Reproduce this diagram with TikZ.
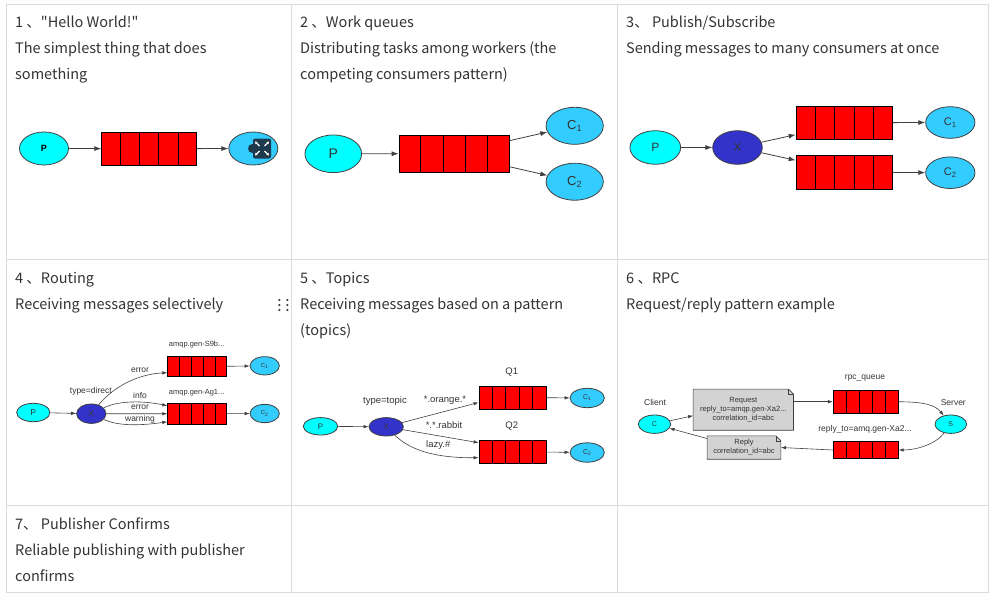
\documentclass[tikz,border=0pt]{standalone}
\usepackage{fontspec}
\setmainfont{Liberation Sans}
\newfontfamily\cjk{Noto Sans CJK SC}
\usetikzlibrary{shapes.geometric,arrows.meta,calc,backgrounds}
\definecolor{gridgray}{HTML}{DCDCDC}
\definecolor{textgray}{HTML}{333333}
\definecolor{edgegray}{HTML}{404040}
\definecolor{pcyan}{HTML}{00FFFF}
\definecolor{cblue}{HTML}{33CCFF}
\definecolor{xblue}{HTML}{3333CC}
\definecolor{qred}{HTML}{FF0000}
\definecolor{notegray}{HTML}{D3D3D3}
\definecolor{icondark}{HTML}{1E3A4C}
\newcommand{\qcells}[1]{\foreach \k in {1,...,4}
  \draw[qline] ($(#1.north west)!\k/5!(#1.north east)$) -- ($(#1.south west)!\k/5!(#1.south east)$);}
\newcommand{\notebox}[1]{\draw[notebg] (#1.south west) -- (#1.north west) -- ([xshift=-5pt]#1.north east)
  -- ([yshift=-5pt]#1.north east) -- (#1.south east) -- cycle;
  \draw[notefold] ([xshift=-5pt]#1.north east) -- ([xshift=-5pt,yshift=-5pt]#1.north east) -- ([yshift=-5pt]#1.north east);}
\tikzset{
  caption/.style={anchor=base west, inner sep=0, text=textgray, font=\cjk\fontsize{14.5}{18}\selectfont},
  gridline/.style={draw=gridgray, line width=1pt},
  prod/.style={ellipse, draw=edgegray, fill=pcyan, inner sep=0, line width=0.8pt, text=textgray},
  cons/.style={ellipse, draw=edgegray, fill=cblue, inner sep=0, line width=0.8pt, text=textgray},
  exch/.style={ellipse, draw=edgegray, fill=xblue, inner sep=0, line width=0.8pt, text=textgray},
  queue/.style={rectangle, draw=black, fill=qred, inner sep=0, line width=0.8pt},
  qline/.style={black, line width=0.8pt},
  link/.style={draw=edgegray, line width=0.8pt, -{Latex[length=7pt,width=5pt]}},
  linkS/.style={draw=edgegray, line width=0.6pt, -{Latex[length=5pt,width=3.5pt]}},
  lbl/.style={inner sep=0, text=textgray},
  notetext/.style={inner sep=0, align=center, text=textgray, font=\fontsize{7.5}{9}\selectfont},
  notebg/.style={draw=edgegray, fill=notegray, line width=0.6pt},
  notefold/.style={draw=edgegray, line width=0.6pt}
}
\begin{document}
\begin{tikzpicture}[x=1pt, y=-1pt]
\useasboundingbox (0,0) rectangle (999,602);
% table grid
\draw[gridline] (6,5) rectangle (988.5,592);
\draw[gridline] (291.5,5) -- (291.5,592);
\draw[gridline] (617,5) -- (617,592);
\draw[gridline] (6,259) -- (988.5,259);
\draw[gridline] (6,505) -- (988.5,505);

% captions
\node[caption] (t1a) at (15,28) {1 、"Hello World!"};
\node[caption] (t1b) at (15,54) {The simplest thing that does};
\node[caption] (t1c) at (15,80) {something};
\node[caption] (t2a) at (300,28) {2 、Work queues};
\node[caption] (t2b) at (300,54) {Distributing tasks among workers (the};
\node[caption] (t2c) at (300,80) {competing consumers pattern)};
\node[caption] (t3a) at (626,28) {3、 Publish/Subscribe};
\node[caption] (t3b) at (626,54) {Sending messages to many consumers at once};
\node[caption] (t4a) at (15,283.5) {4 、Routing};
\node[caption] (t4b) at (15,309.5) {Receiving messages selectively};
\node[caption] (t5a) at (300,283.5) {5 、Topics};
\node[caption] (t5b) at (300,309.5) {Receiving messages based on a pattern};
\node[caption] (t5c) at (300,335.5) {(topics)};
\node[caption] (t6a) at (626,283.5) {6 、RPC};
\node[caption] (t6b) at (626,309.5) {Request/reply pattern example};
\node[caption] (t7a) at (15,529) {7、 Publisher Confirms};
\node[caption] (t7b) at (15,555) {Reliable publishing with publisher};
\node[caption] (t7c) at (15,581) {confirms};
\foreach \dx in {279.3,287.3}
  \foreach \dy in {300,305,310}
    \fill[edgegray] (\dx,\dy) circle (1.2pt);

% 1 hello world
\node[prod, minimum width=49, minimum height=33, font=\bfseries\fontsize{9}{9}\selectfont, text=black] (p1) at (44,148.5) {P};
\node[queue, minimum width=95, minimum height=33] (q1) at (149.2,148.7) {};
\qcells{q1}
\node[cons, minimum width=49, minimum height=33] (c1) at (253.3,148.5) {};
\draw[link] (p1) -- (q1);
\draw[link] (q1) -- (c1);
\fill[icondark] (252.5,148.5) circle (4.5pt);
\fill[icondark, rounded corners=2pt] (253,138.5) rectangle (271,158.5);
\foreach \sx/\sy in {-1/-1,1/-1,-1/1,1/1}
  \draw[white, line width=1.2pt, -{Stealth[length=2.5pt,width=3pt]}] (262+2.5*\sx,148.5+2.5*\sy) -- (262+7*\sx,148.5+7*\sy);

% 2 work queues
\node[prod, minimum width=56.7, minimum height=37.6, font=\fontsize{14}{14}\selectfont] (p2) at (333.3,153.8) {P};
\node[queue, minimum width=110, minimum height=37] (q2) at (454,153.7) {};
\qcells{q2}
\node[cons, minimum width=57.3, minimum height=37, font=\fontsize{13}{13}\selectfont] (c21) at (574.7,125.8) {C\textsubscript{1}};
\node[cons, minimum width=57.3, minimum height=37, font=\fontsize{13}{13}\selectfont] (c22) at (574.7,181.7) {C\textsubscript{2}};
\draw[link] (p2) -- (q2);
\draw[link] ([yshift=13pt]q2.east) -- (c21);
\draw[link] ([yshift=-13pt]q2.east) -- (c22);

% 3 publish/subscribe
\node[prod, minimum width=50.7, minimum height=33.6, font=\fontsize{12}{12}\selectfont] (p3) at (655.3,147.5) {P};
\node[exch, minimum width=49.6, minimum height=33.6, font=\fontsize{12}{12}\selectfont] (x3) at (737.5,147.5) {X};
\node[queue, minimum width=96.3, minimum height=33.3] (q31) at (844.2,122.7) {};
\qcells{q31}
\node[queue, minimum width=96.3, minimum height=33.3] (q32) at (844.2,172.3) {};
\qcells{q32}
\node[cons, minimum width=49.3, minimum height=31.6, font=\fontsize{11}{11}\selectfont] (c31) at (950.3,122.5) {C\textsubscript{1}};
\node[cons, minimum width=49.3, minimum height=31.6, font=\fontsize{11}{11}\selectfont] (c32) at (950.3,172.7) {C\textsubscript{2}};
\draw[link] (p3) -- (x3);
\draw[link] (x3) -- ([yshift=-12pt]q31.west);
\draw[link] (x3) -- ([yshift=12pt]q32.west);
\draw[link] (q31) -- (c31);
\draw[link] (q32) -- (c32);

% 4 routing
\begin{scope}[font=\fontsize{8.5}{8.5}\selectfont]
\node[prod, minimum width=33.3, minimum height=18.4] (p4) at (33.3,412.5) {P};
\node[exch, minimum width=29.4, minimum height=19.4] (x4) at (91.3,413.7) {X};
\node[queue, minimum width=59, minimum height=20] (q41) at (197.2,366.7) {};
\qcells{q41}
\node[queue, minimum width=59, minimum height=21] (q42) at (197.2,413.8) {};
\qcells{q42}
\node[cons, minimum width=29.3, minimum height=18.3, font=\fontsize{6}{6}\selectfont] (c41) at (264.7,365.8) {C\textsubscript{1}};
\node[cons, minimum width=29.3, minimum height=18.3, font=\fontsize{6}{6}\selectfont] (c42) at (264.7,413.5) {C\textsubscript{2}};
\node[lbl, font=\fontsize{7.5}{7.5}\selectfont] (n41) at (196.7,345) {amqp.gen-S9b...};
\node[lbl, font=\fontsize{7.5}{7.5}\selectfont] (n42) at (196.7,392.7) {amqp.gen-Ag1...};
\node[lbl] (n4t) at (90.8,391.7) {type=direct};
\node[lbl] (e41) at (140,370.7) {error};
\node[lbl] (e42) at (140,395) {info};
\node[lbl] (e43) at (140,407.3) {error};
\node[lbl] (e44) at (140,419.3) {warning};
\end{scope}
\draw[linkS] (p4) -- (x4);
\draw[linkS] (x4) .. controls (115,385) and (140,374) .. ([yshift=-6pt]q41.west);
\draw[linkS] (x4) .. controls (120,400) and (145,401) .. ([yshift=8pt]q42.west);
\draw[linkS] (x4) -- (q42.west);
\draw[linkS] (x4) .. controls (120,427) and (145,425) .. ([yshift=-8pt]q42.west);
\draw[linkS] (q41) -- (c41);
\draw[linkS] (q42) -- (c42);

% 5 topics
\begin{scope}[font=\fontsize{9.5}{9.5}\selectfont]
\node[prod, minimum width=34.4, minimum height=17.4, font=\fontsize{8}{8}\selectfont] (p5) at (320.5,426.3) {P};
\node[exch, minimum width=34.4, minimum height=18.4, font=\fontsize{8}{8}\selectfont] (x5) at (386.2,426.8) {X};
\node[queue, minimum width=67, minimum height=23] (q51) at (512.5,397.5) {};
\qcells{q51}
\node[queue, minimum width=67, minimum height=23.3] (q52) at (512.5,451.7) {};
\qcells{q52}
\node[cons, minimum width=34.3, minimum height=19.4, font=\fontsize{7}{7}\selectfont] (c51) at (587.2,398) {C\textsubscript{1}};
\node[cons, minimum width=34.3, minimum height=19.4, font=\fontsize{7}{7}\selectfont] (c52) at (587.2,452.5) {C\textsubscript{2}};
\node[lbl] (n51) at (511.7,371.7) {Q1};
\node[lbl] (n52) at (511.7,425.7) {Q2};
\node[lbl] (n5t) at (385,401) {type=topic};
\node[lbl] (e51) at (445,400) {*.orange.*};
\node[lbl] (e52) at (444,425) {*.*.rabbit};
\node[lbl] (e53) at (438.3,445) {lazy.\#};
\end{scope}
\draw[linkS] (p5) -- (x5);
\draw[linkS] (x5) -- ([yshift=-5pt]q51.west);
\draw[linkS] (x5) -- ([yshift=9pt]q52.west);
\draw[linkS] (x5) .. controls (412,452) and (440,458) .. ([yshift=-6pt]q52.west);
\draw[linkS] (q51) -- (c51);
\draw[linkS] (q52) -- (c52);

% 6 rpc
\begin{scope}[font=\fontsize{8.5}{8.5}\selectfont]
\node[prod, minimum width=32.4, minimum height=18.4, font=\fontsize{7}{7}\selectfont] (c6) at (654.5,424.2) {C};
\node[prod, minimum width=31.7, minimum height=18.4, font=\fontsize{7}{7}\selectfont] (s6) at (950.8,424.2) {S};
\node[notetext, minimum width=100, minimum height=40.7] (req) at (743.3,409.7) {Request\\reply\_to=amqp.gen-Xa2...\\correlation\_id=abc};
\node[notetext, minimum width=73.4, minimum height=23] (rep) at (744,447.5) {Reply\\correlation\_id=abc};
\node[queue, minimum width=65, minimum height=23.3] (q61) at (865.8,401.7) {};
\qcells{q61}
\node[queue, minimum width=65, minimum height=16.6] (q62) at (865.8,450) {};
\qcells{q62}
\node[lbl] (n61) at (865,378.3) {rpc\_queue};
\node[lbl] (n62) at (865,429.3) {reply\_to=amq.gen-Xa2...};
\node[lbl] (n6c) at (655,402.7) {Client};
\node[lbl] (n6s) at (953.3,402.7) {Server};
\end{scope}
\begin{scope}[on background layer]
\notebox{req}
\notebox{rep}
\end{scope}
\draw[linkS] (c6) -- ([yshift=-6pt]req.west);
\draw[linkS] ([yshift=8pt]req.east) -- (q61.west);
\draw[linkS] (q61.east) .. controls (925,402) and (935,405) .. (s6);
\draw[linkS] (s6) .. controls (935,445) and (915,450) .. (q62.east);
\draw[linkS] (q62.west) -- (rep.east);
\draw[linkS] ([yshift=9pt]rep.west) -- (c6);
\end{tikzpicture}
\end{document}
